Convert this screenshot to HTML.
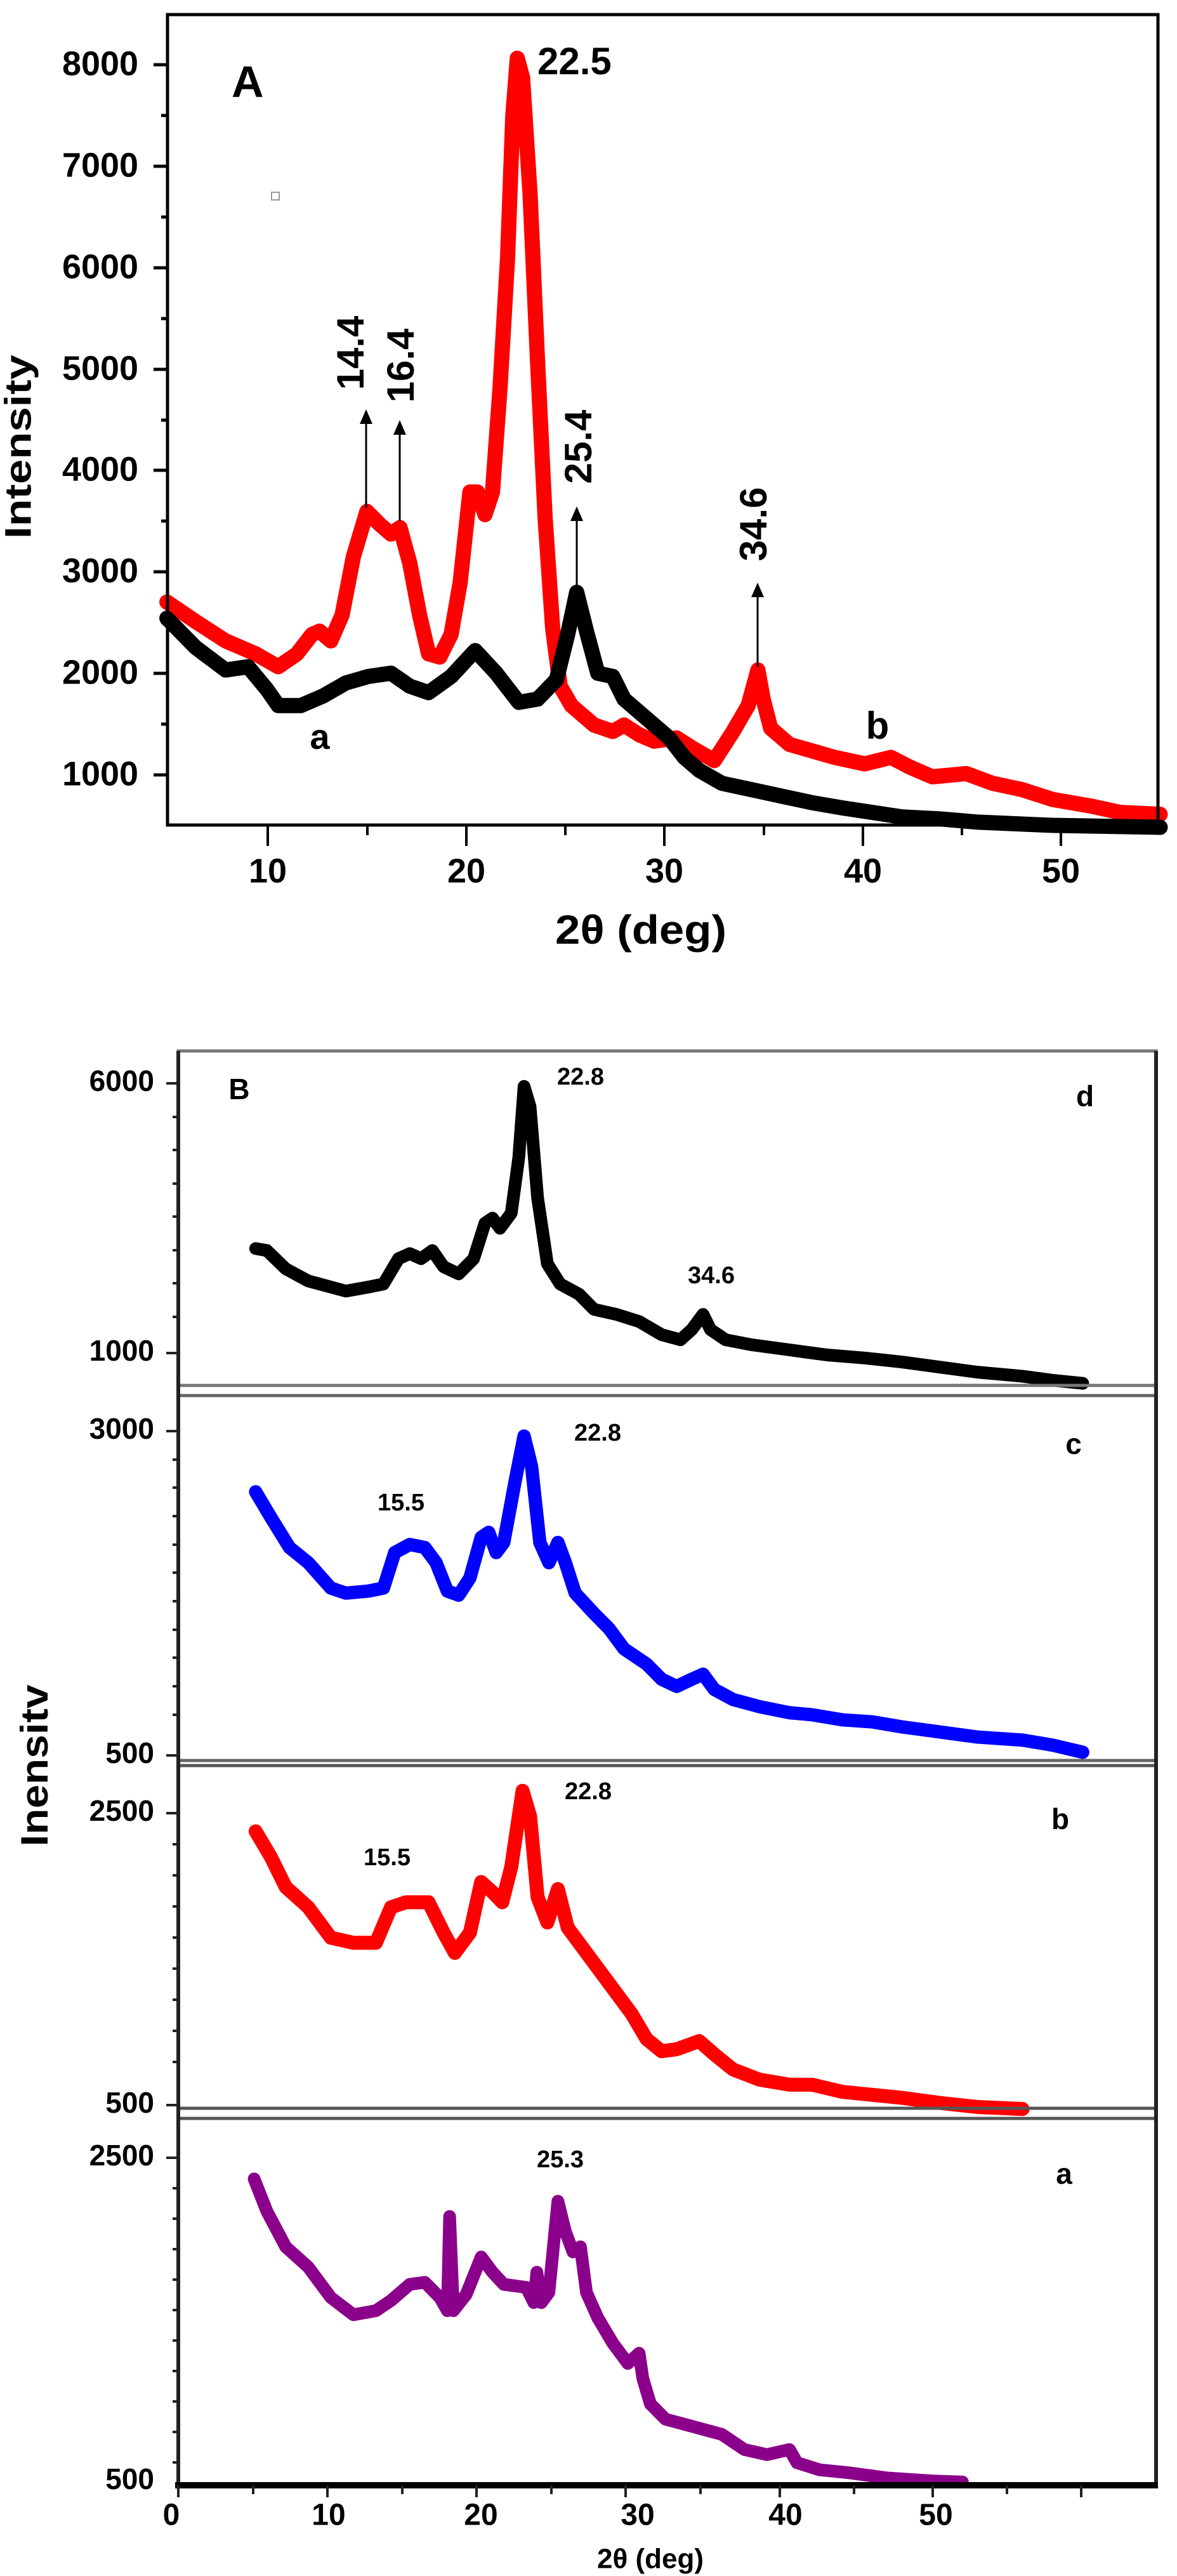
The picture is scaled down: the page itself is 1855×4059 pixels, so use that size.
<!DOCTYPE html>
<html><head><meta charset="utf-8"><style>
html,body{margin:0;padding:0;background:#fff;}
svg{display:block;}
text{font-family:"Liberation Sans",Arial,sans-serif;font-weight:bold;fill:#000;}
</style></head><body>
<svg width="1855" height="4059" viewBox="0 0 1855 4059" xmlns="http://www.w3.org/2000/svg">
<rect width="1855" height="4059" fill="#fff"/>

<!-- ================= PANEL A ================= -->
<g transform="scale(1.185,1.02)" fill="none" stroke-linejoin="round" stroke-linecap="round">
<polyline vector-effect="non-scaling-stroke" stroke="#ff0000" stroke-width="24" points="222,930 260,960 300,990 340,1010 370,1030 395,1010 415,980 425,975 440,990 455,950 470,860 488,790 505,810 520,825 532,815 545,870 558,950 570,1010 585,1015 600,980 612,900 625,760 635,760 645,795 655,760 665,600 675,400 682,180 688,90 695,120 705,300 715,560 725,800 735,970 745,1060 760,1090 790,1120 815,1130 830,1120 850,1135 870,1145 900,1140 920,1155 950,1175 975,1130 995,1090 1008,1035 1015,1080 1025,1125 1050,1150 1080,1160 1110,1170 1150,1180 1185,1170 1210,1185 1240,1200 1285,1195 1320,1210 1360,1220 1400,1235 1450,1245 1490,1255 1543,1258"/>
<polyline vector-effect="non-scaling-stroke" stroke="#000" stroke-width="24" points="222,955 260,1000 300,1035 330,1030 355,1065 370,1090 400,1090 430,1075 460,1055 490,1045 520,1040 545,1060 570,1070 600,1045 632,1005 660,1040 690,1085 715,1080 740,1050 755,980 767,915 780,975 795,1040 815,1045 830,1080 860,1110 890,1140 910,1170 930,1190 960,1210 1000,1220 1040,1230 1080,1240 1120,1248 1160,1255 1200,1262 1250,1265 1300,1270 1400,1275 1543,1278"/>
</g>
<rect x="264" y="23" width="1561" height="1277" fill="none" stroke="#000" stroke-width="5"/>
<g stroke="#000" stroke-width="5">
<line x1="242" y1="102" x2="264" y2="102"/><line x1="242" y1="262" x2="264" y2="262"/><line x1="242" y1="422" x2="264" y2="422"/><line x1="242" y1="582" x2="264" y2="582"/><line x1="242" y1="741" x2="264" y2="741"/><line x1="242" y1="901" x2="264" y2="901"/><line x1="242" y1="1061" x2="264" y2="1061"/><line x1="242" y1="1221" x2="264" y2="1221"/>
<line x1="254" y1="182" x2="264" y2="182"/><line x1="254" y1="342" x2="264" y2="342"/><line x1="254" y1="502" x2="264" y2="502"/><line x1="254" y1="662" x2="264" y2="662"/><line x1="254" y1="821" x2="264" y2="821"/><line x1="254" y1="981" x2="264" y2="981"/><line x1="254" y1="1141" x2="264" y2="1141"/>
</g>
<g stroke="#000" stroke-width="4">
<line x1="422" y1="1300" x2="422" y2="1333"/><line x1="735" y1="1300" x2="735" y2="1333"/><line x1="1047" y1="1300" x2="1047" y2="1333"/><line x1="1360" y1="1300" x2="1360" y2="1333"/><line x1="1672" y1="1300" x2="1672" y2="1333"/>
<line x1="579" y1="1300" x2="579" y2="1316"/><line x1="891" y1="1300" x2="891" y2="1316"/><line x1="1204" y1="1300" x2="1204" y2="1316"/><line x1="1516" y1="1300" x2="1516" y2="1316"/>
</g>
<g font-size="54" text-anchor="end" dominant-baseline="middle">
<text x="218" y="104" textLength="120" lengthAdjust="spacingAndGlyphs">8000</text>
<text x="218" y="264" textLength="120" lengthAdjust="spacingAndGlyphs">7000</text>
<text x="218" y="424" textLength="120" lengthAdjust="spacingAndGlyphs">6000</text>
<text x="218" y="584" textLength="120" lengthAdjust="spacingAndGlyphs">5000</text>
<text x="218" y="743" textLength="120" lengthAdjust="spacingAndGlyphs">4000</text>
<text x="218" y="903" textLength="120" lengthAdjust="spacingAndGlyphs">3000</text>
<text x="218" y="1063" textLength="120" lengthAdjust="spacingAndGlyphs">2000</text>
<text x="218" y="1223" textLength="120" lengthAdjust="spacingAndGlyphs">1000</text>
</g>
<g font-size="54" text-anchor="middle" dominant-baseline="middle">
<text x="422" y="1376">10</text><text x="735" y="1376">20</text><text x="1047" y="1376">30</text><text x="1360" y="1376">40</text><text x="1672" y="1376">50</text>
</g>
<text x="1010" y="1470" font-size="64" text-anchor="middle" dominant-baseline="middle" textLength="270" lengthAdjust="spacingAndGlyphs">2θ (deg)</text>
<text transform="translate(33,704) rotate(-90)" font-size="58" text-anchor="middle" dominant-baseline="middle" textLength="290" lengthAdjust="spacingAndGlyphs">Intensity</text>
<text x="365" y="153" font-size="70">A</text>
<rect x="428" y="303" width="12" height="12" fill="none" stroke="#999" stroke-width="2"/>
<text x="847" y="101" font-size="60" dominant-baseline="middle">22.5</text>
<g stroke="#000" stroke-width="3">
<line x1="577" y1="801" x2="577" y2="665"/><line x1="630" y1="821" x2="630" y2="682"/><line x1="909" y1="928" x2="909" y2="818"/><line x1="1194" y1="1051" x2="1194" y2="938"/>
</g>
<g fill="#000">
<polygon points="577,645 567,668 587,668"/><polygon points="630,662 620,685 640,685"/><polygon points="909,798 899,821 919,821"/><polygon points="1194,918 1184,941 1204,941"/>
</g>
<g font-size="60" text-anchor="middle" dominant-baseline="middle">
<text transform="translate(557,556) rotate(-90)">14.4</text>
<text transform="translate(636,576) rotate(-90)">16.4</text>
<text transform="translate(916,704) rotate(-90)">25.4</text>
<text transform="translate(1192,826) rotate(-90)">34.6</text>
</g>
<text x="504" y="1165" font-size="56" text-anchor="middle" dominant-baseline="middle">a</text>
<text x="1383" y="1148" font-size="60" text-anchor="middle" dominant-baseline="middle">b</text>

<!-- ================= PANEL B ================= -->
<g transform="translate(0,1600) scale(1.185,1.597)" fill="none" stroke-linejoin="round" stroke-linecap="round">
<polyline vector-effect="non-scaling-stroke" stroke="#000" stroke-width="20" points="340,230 355,232 380,250 410,262 440,268 460,272 490,268 510,265 530,240 545,235 560,240 575,232 590,248 610,255 630,240 645,205 655,200 665,210 680,195 690,140 697,70 705,90 715,180 728,245 745,265 770,275 790,290 820,295 850,302 880,315 905,320 920,310 935,295 945,310 965,320 1000,325 1050,330 1100,335 1150,338 1200,342 1250,347 1300,352 1360,356 1400,360 1440,363"/>
<polyline vector-effect="non-scaling-stroke" stroke="#0000ff" stroke-width="21" points="340,470 360,495 385,525 410,540 440,565 460,570 490,568 510,565 525,530 545,522 565,525 580,540 595,568 610,572 625,555 640,515 650,510 660,530 670,520 685,460 697,415 707,445 718,520 730,540 742,520 752,540 765,570 790,590 810,605 830,625 860,640 880,655 900,662 920,655 935,650 950,665 975,675 1010,682 1050,688 1080,690 1120,695 1160,697 1200,702 1250,707 1300,712 1360,715 1400,720 1440,727"/>
<polyline vector-effect="non-scaling-stroke" stroke="#ff0000" stroke-width="22" points="340,805 360,830 380,860 410,880 440,910 470,915 500,915 520,880 540,875 570,875 590,905 605,925 625,905 640,855 655,865 668,875 680,840 695,765 705,790 715,870 728,895 742,862 755,900 775,920 800,945 820,965 840,985 860,1010 880,1022 900,1020 930,1012 950,1025 975,1040 1010,1050 1050,1055 1080,1055 1120,1062 1160,1065 1200,1068 1250,1073 1300,1077 1360,1079"/>
<polyline vector-effect="non-scaling-stroke" stroke="#8b008b" stroke-width="20" points="338,1148 355,1180 380,1215 410,1235 440,1265 470,1282 500,1278 520,1268 545,1252 565,1250 585,1265 595,1278 598,1185 603,1278 620,1262 640,1225 655,1240 670,1252 700,1255 710,1270 714,1240 720,1270 730,1260 742,1170 752,1200 762,1220 772,1215 780,1260 795,1285 815,1310 835,1330 850,1320 855,1345 865,1370 885,1385 910,1390 935,1395 960,1400 990,1415 1020,1420 1050,1415 1060,1428 1090,1435 1130,1438 1180,1443 1240,1446 1280,1447"/>
</g>
<g fill="none" stroke-width="5">
<rect x="281" y="1656" width="1541" height="527" stroke="#777"/>
<rect x="281" y="2199" width="1541" height="575" stroke="#666"/>
<rect x="281" y="2782" width="1541" height="540" stroke="#555"/>
<rect x="281" y="3338" width="1541" height="578" stroke="#555"/>
</g>
<g stroke="#222" stroke-width="6">
<line x1="281" y1="1656" x2="281" y2="3918"/>
<line x1="1822" y1="1656" x2="1822" y2="3918"/>
</g>
<line x1="276" y1="3916" x2="1825" y2="3916" stroke="#000" stroke-width="10"/>
<g stroke="#222" stroke-width="4">
<line x1="262" y1="1707" x2="281" y2="1707"/><line x1="262" y1="2132" x2="281" y2="2132"/>
<line x1="262" y1="2255" x2="281" y2="2255"/><line x1="262" y1="2766" x2="281" y2="2766"/>
<line x1="262" y1="2857" x2="281" y2="2857"/><line x1="262" y1="3317" x2="281" y2="3317"/>
<line x1="262" y1="3400" x2="281" y2="3400"/>
<line x1="272" y1="1760" x2="281" y2="1760"/><line x1="272" y1="1812" x2="281" y2="1812"/><line x1="272" y1="1865" x2="281" y2="1865"/><line x1="272" y1="1917" x2="281" y2="1917"/><line x1="272" y1="1970" x2="281" y2="1970"/><line x1="272" y1="2022" x2="281" y2="2022"/><line x1="272" y1="2075" x2="281" y2="2075"/>
<line x1="272" y1="2300" x2="281" y2="2300"/><line x1="272" y1="2344" x2="281" y2="2344"/><line x1="272" y1="2389" x2="281" y2="2389"/><line x1="272" y1="2434" x2="281" y2="2434"/><line x1="272" y1="2478" x2="281" y2="2478"/><line x1="272" y1="2523" x2="281" y2="2523"/><line x1="272" y1="2568" x2="281" y2="2568"/><line x1="272" y1="2612" x2="281" y2="2612"/><line x1="272" y1="2657" x2="281" y2="2657"/><line x1="272" y1="2702" x2="281" y2="2702"/>
<line x1="272" y1="2906" x2="281" y2="2906"/><line x1="272" y1="2955" x2="281" y2="2955"/><line x1="272" y1="3004" x2="281" y2="3004"/><line x1="272" y1="3053" x2="281" y2="3053"/><line x1="272" y1="3102" x2="281" y2="3102"/><line x1="272" y1="3151" x2="281" y2="3151"/><line x1="272" y1="3200" x2="281" y2="3200"/><line x1="272" y1="3249" x2="281" y2="3249"/>
<line x1="272" y1="3448" x2="281" y2="3448"/><line x1="272" y1="3496" x2="281" y2="3496"/><line x1="272" y1="3544" x2="281" y2="3544"/><line x1="272" y1="3592" x2="281" y2="3592"/><line x1="272" y1="3640" x2="281" y2="3640"/><line x1="272" y1="3688" x2="281" y2="3688"/><line x1="272" y1="3736" x2="281" y2="3736"/><line x1="272" y1="3784" x2="281" y2="3784"/><line x1="272" y1="3832" x2="281" y2="3832"/><line x1="272" y1="3880" x2="281" y2="3880"/>
</g>
<g stroke="#222" stroke-width="4">
<line x1="281" y1="3916" x2="281" y2="3935"/><line x1="399" y1="3916" x2="399" y2="3930"/><line x1="516" y1="3916" x2="516" y2="3935"/><line x1="634" y1="3916" x2="634" y2="3930"/><line x1="751" y1="3916" x2="751" y2="3935"/><line x1="869" y1="3916" x2="869" y2="3930"/><line x1="986" y1="3916" x2="986" y2="3935"/><line x1="1104" y1="3916" x2="1104" y2="3930"/><line x1="1229" y1="3916" x2="1229" y2="3935"/><line x1="1346" y1="3916" x2="1346" y2="3930"/><line x1="1470" y1="3916" x2="1470" y2="3935"/><line x1="1587" y1="3916" x2="1587" y2="3930"/><line x1="1704" y1="3916" x2="1704" y2="3935"/>
</g>
<g font-size="46" text-anchor="end" dominant-baseline="middle">
<text x="243" y="1707">6000</text><text x="243" y="2132">1000</text>
<text x="243" y="2255">3000</text><text x="243" y="2766">500</text>
<text x="243" y="2857">2500</text><text x="243" y="3317">500</text>
<text x="243" y="3400">2500</text><text x="243" y="3910">500</text>
</g>
<g font-size="48" text-anchor="middle" dominant-baseline="middle">
<text x="270" y="3966">0</text><text x="518" y="3966">10</text><text x="758" y="3966">20</text><text x="1005" y="3966">30</text><text x="1238" y="3966">40</text><text x="1475" y="3966">50</text>
</g>
<text x="1025" y="4035" font-size="44" text-anchor="middle" dominant-baseline="middle">2θ (deg)</text>
<text transform="translate(59,2782) rotate(-90)" font-size="60" text-anchor="middle" dominant-baseline="middle" font-weight="normal" textLength="255" lengthAdjust="spacingAndGlyphs">Inensitv</text>
<g font-size="46" text-anchor="middle" dominant-baseline="middle">
<text x="377" y="1720">B</text>
<text x="1710" y="1731">d</text>
<text x="1692" y="2279">c</text>
<text x="1671" y="2870">b</text>
<text x="1677" y="3429">a</text>
</g>
<g font-size="38" text-anchor="middle" dominant-baseline="middle">
<text x="915" y="1699">22.8</text>
<text x="1121" y="2012">34.6</text>
<text x="632" y="2370">15.5</text>
<text x="942" y="2260">22.8</text>
<text x="610" y="2929">15.5</text>
<text x="927" y="2825">22.8</text>
<text x="883" y="3405">25.3</text>
</g>
</svg>
</body></html>
